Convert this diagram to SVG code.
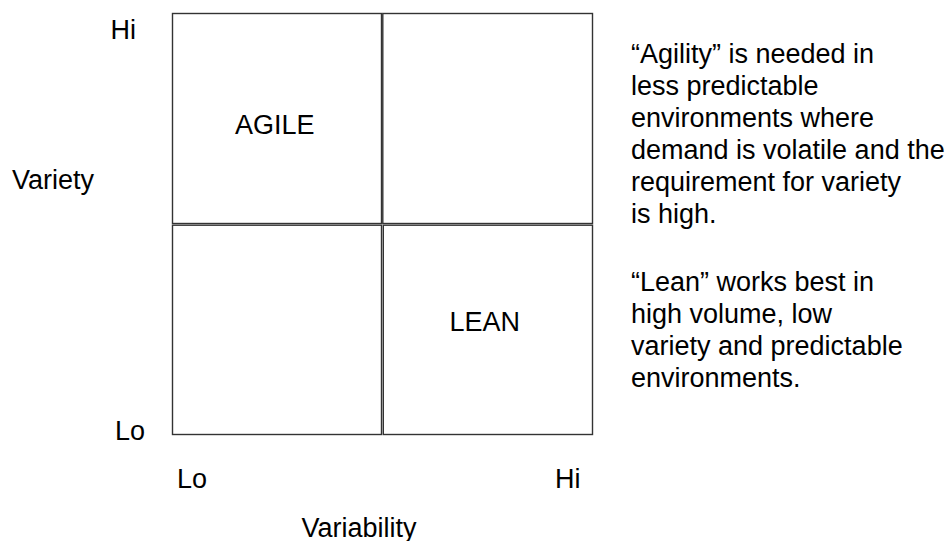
<svg xmlns="http://www.w3.org/2000/svg" width="947" height="541" viewBox="0 0 947 541">
<style>
text{font-family:"Liberation Sans",Arial,sans-serif;font-size:27px;fill:#000}
.cell{fill:#fff;stroke:#333;stroke-width:1.4}
</style>
<rect width="947" height="541" fill="#fff"/>
<g id="cell-agile">
<rect class="cell" x="172.5" y="13.5" width="209" height="210"/>
<text x="235" y="133.5">AGILE</text>
</g>
<g id="cell-top-right">
<rect class="cell" x="382.8" y="13.5" width="209.7" height="210"/>
</g>
<g id="cell-bottom-left">
<rect class="cell" x="172.5" y="225.2" width="209" height="209.3"/>
</g>
<g id="cell-lean">
<rect class="cell" x="383.3" y="225.2" width="209.2" height="209.3"/>
<text x="449.5" y="331">LEAN</text>
</g>
<g id="connectors"></g>
<g id="axis-labels">
<text x="110.5" y="39">Hi</text>
<text x="115" y="440">Lo</text>
<text x="12" y="188.5">Variety</text>
<text x="177" y="488">Lo</text>
<text x="555" y="488">Hi</text>
<text x="301.5" y="536.5">Variability</text>
</g>
<g id="notes">
<text x="631" y="63">“Agility” is needed in</text>
<text x="631" y="95">less predictable</text>
<text x="631" y="127">environments where</text>
<text x="631" y="159">demand is volatile and the</text>
<text x="631" y="191">requirement for variety</text>
<text x="631" y="223">is high.</text>
<text x="631" y="291">“Lean” works best in</text>
<text x="631" y="323">high volume, low</text>
<text x="631" y="355">variety and predictable</text>
<text x="631" y="387">environments.</text>
</g>
</svg>
